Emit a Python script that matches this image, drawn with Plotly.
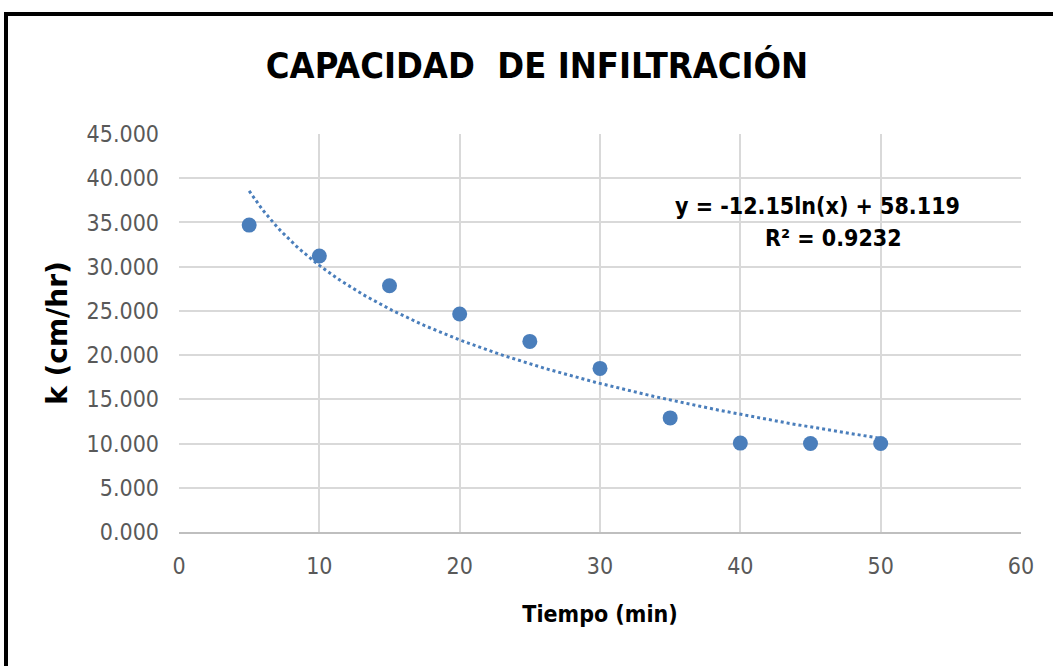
import numpy as np
import plotly.graph_objects as go

# Data
tiempo_min = [5, 10, 15, 20, 25, 30, 35, 40, 45, 50]
k_cm_hr = [34.7, 31.2, 27.85, 24.65, 21.55, 18.5, 12.9, 10.05, 10.0, 10.0]

# Trendline coefficients as displayed on the chart
trend_slope = -12.15
trend_intercept = 58.119
trend_r2 = 0.9232

x_ticks = [0, 10, 20, 30, 40, 50, 60]
y_ticks = [0, 5, 10, 15, 20, 25, 30, 35, 40, 45]
y_tick_text = ["0.000", "5.000", "10.000", "15.000", "20.000", "25.000",
               "30.000", "35.000", "40.000", "45.000"]

NARROW = "DejaVu Sans Condensed, Liberation Sans Narrow, Arial Narrow, sans-serif"
BLUE = "#4a7ebb"

x_trend = np.linspace(min(tiempo_min), max(tiempo_min), 200)
y_trend = trend_slope * np.log(x_trend) + trend_intercept

fig = go.Figure()
fig.add_trace(go.Scatter(
    x=x_trend, y=y_trend, mode="lines",
    line=dict(color=BLUE, width=3, dash="dot"),
    hoverinfo="skip", showlegend=False,
))
fig.add_trace(go.Scatter(
    x=tiempo_min, y=k_cm_hr, mode="markers",
    marker=dict(color=BLUE, size=15),
    showlegend=False,
))

fig.update_layout(
    width=1053, height=666,
    margin=dict(l=179, r=32, t=134, b=134),
    paper_bgcolor="white", plot_bgcolor="white",
    title=dict(
        text="<b>CAPACIDAD  DE INFILTRACIÓN</b>",
        x=0.51, xanchor="center", y=0.902, yanchor="middle",
        font=dict(family=NARROW, size=36, color="black"),
    ),
    xaxis=dict(
        range=[0, 60], tickvals=x_ticks, ticktext=[str(v) for v in x_ticks],
        showgrid=True, gridcolor="#d9d9d9", gridwidth=1.5,
        zeroline=False, showline=True, linecolor="#bfbfbf", linewidth=2,
        ticks="", ticklabelstandoff=12,
        tickfont=dict(family=NARROW, size=23, color="#595959"),
        title=dict(text="<b>Tiempo (min)</b>", standoff=28,
                   font=dict(family=NARROW, size=23, color="black")),
    ),
    yaxis=dict(
        range=[0, 45], tickvals=y_ticks, ticktext=y_tick_text,
        showgrid=True, gridcolor="#d9d9d9", gridwidth=1.5,
        zeroline=False, showline=False, ticks="", ticklabelstandoff=19,
        tickfont=dict(family=NARROW, size=23, color="#595959"),
        title=dict(text="<b>k (cm/hr)</b>", standoff=10,
                   font=dict(family="DejaVu Sans, sans-serif", size=28, color="black")),
    ),
)

fig.add_annotation(
    x=0.930, y=0.819, xref="paper", yref="paper", xanchor="right", yanchor="middle",
    text=f"<b>y = {trend_slope}ln(x) + {trend_intercept}</b>", showarrow=False,
    font=dict(family=NARROW, size=23, color="black"),
)
fig.add_annotation(
    x=0.777, y=0.739, xref="paper", yref="paper", xanchor="center", yanchor="middle",
    text=f"<b>R² = {trend_r2}</b>", showarrow=False,
    font=dict(family=NARROW, size=23, color="black"),
)

# Outer chart frame (black border, partly outside the window)
fig.add_shape(type="rect", xref="paper", yref="paper",
              x0=-179/842 + 6/842, x1=1 + 40/842, y0=-0.5, y1=1 + (134 - 14)/398,
              line=dict(color="black", width=4), layer="below")

fig.write_html("out.html", config={"displayModeBar": False})
with open("out.html", "r", encoding="utf-8") as f:
    html = f.read()
html = html.replace("<body>", '<body style="margin:0;overflow:hidden">', 1)
with open("out.html", "w", encoding="utf-8") as f:
    f.write(html)
